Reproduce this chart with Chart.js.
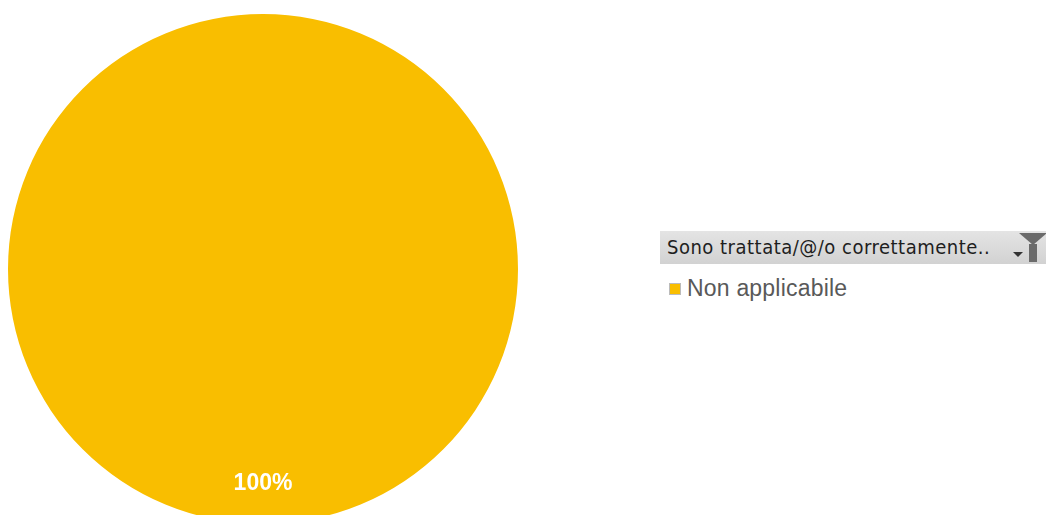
<!DOCTYPE html>
<html>
<head>
<meta charset="utf-8">
<script src="https://cdn.jsdelivr.net/npm/chart.js@4"></script>
<style>
    html, body { margin: 0; padding: 0; background: #fff; overflow: hidden; width: 1046px; height: 515px; }
    #pie-wrap { position: absolute; left: 0; top: 0; width: 526px; height: 530px; }
    #field-button {
        position: absolute; left: 660px; top: 231px; width: 386px; height: 33px;
        background: linear-gradient(#e4e4e4, #d2d2d2);
        font-family: "DejaVu Sans Condensed", "DejaVu Sans", sans-serif; font-size: 20px;
        color: #1e1e1e; line-height: 33px; box-sizing: border-box; padding-left: 7px;
        letter-spacing: 0.5px; white-space: nowrap;
    }
    #field-button .arrow {
        position: absolute; left: 353px; top: 21px; width: 0; height: 0;
        border-left: 5px solid transparent; border-right: 5px solid transparent; border-top: 5px solid #333;
    }
    #field-button .funnel {
        position: absolute; left: 359px; top: 2px; width: 0; height: 0;
        border-left: 14px solid transparent; border-right: 14px solid transparent; border-top: 12px solid #6b6b6b;
    }
    #field-button .stem { position: absolute; left: 369px; top: 13px; width: 8px; height: 18px; background: #6b6b6b; }
    #legend { position: absolute; left: 669px; top: 275px; font-family: "Liberation Sans", Arial, sans-serif; font-size: 23px; letter-spacing: 0.2px; color: #595959; }
    #legend .item { display: flex; align-items: center; }
    #legend .box { width: 10px; height: 10px; border: 1px solid #bbb; margin-right: 6px; }
</style>
</head>
<body>
<div id="pie-wrap"><canvas id="pie"></canvas></div>
<div id="field-button">Sono trattata/@/o correttamente..<span class="arrow"></span><span class="funnel"></span><span class="stem"></span></div>
<div id="legend"></div>
<script>
// Categories and values of the pie.
const categories = ["Non applicabile"];
const values = [100];
const colors = ["#f9be00"];


// Draws the percentage inside each slice, near the outer edge like Excel does.
const percentLabels = {
    id: "percentLabels",
    afterDatasetsDraw(chart) {
        const ctx = chart.ctx;
        const total = values.reduce((a, b) => a + b, 0);
        chart.getDatasetMeta(0).data.forEach((arc, i) => {
            const mid = (arc.startAngle + arc.endAngle) / 2;
            const r = arc.outerRadius * 0.84;
            const x = arc.x + Math.cos(mid) * r;
            const y = arc.y + Math.sin(mid) * r;
            ctx.save();
            ctx.fillStyle = "#ffffff";
            ctx.font = "bold 23px 'Liberation Sans', Arial, sans-serif";
            ctx.textAlign = "center";
            ctx.textBaseline = "middle";
            ctx.fillText(Math.round(values[i] / total * 100) + "%", x, y);
            ctx.restore();
        });
    }
};


/**
 * Builds the legend next to the pie from the data arrays.
 */
function createLegend() {
    const legend = document.getElementById("legend");
    let html = "";
    categories.forEach((name, i) => {
        html += `<div class="item"><span class="box" style="background:${colors[i]}"></span>${name}</div>`;
    });
    legend.innerHTML = html;
}


new Chart(document.getElementById("pie"), {
    type: "pie",
    data: {
        labels: categories,
        datasets: [{
            data: values,
            backgroundColor: colors,
            borderWidth: 0
        }]
    },
    options: {
        responsive: true,
        maintainAspectRatio: false,
        animation: false,
        layout: { padding: { left: 8, top: 14, right: 8, bottom: 6 } },
        plugins: {
            legend: { display: false },
            tooltip: { enabled: false }
        }
    },
    plugins: [percentLabels]
});

createLegend();
</script>
</body>
</html>
